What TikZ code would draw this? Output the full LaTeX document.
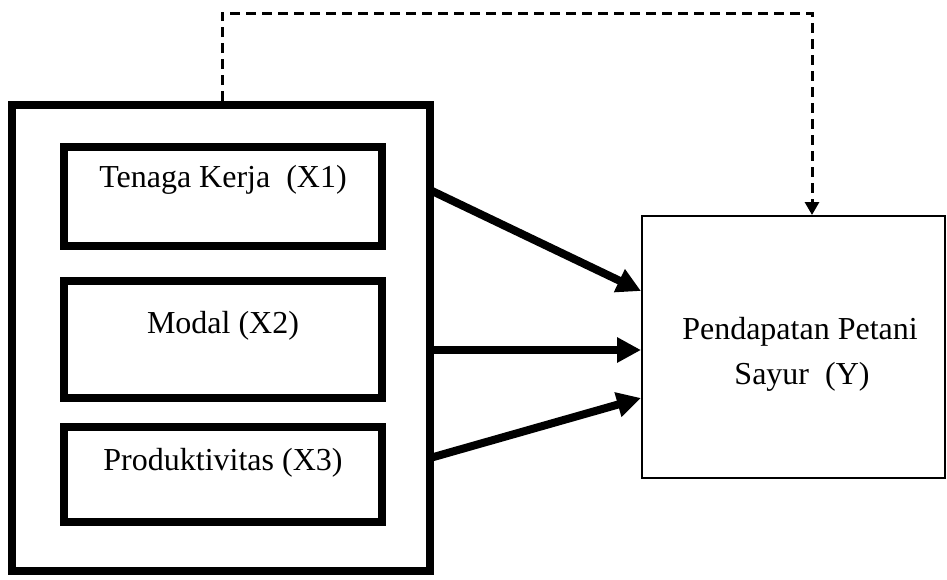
\documentclass[tikz,border=0pt]{standalone}
\usepackage{fontspec}
\setmainfont{Liberation Serif}
\usetikzlibrary{arrows.meta,calc}
\tikzset{
  grpbox/.style={draw=black, line width=8pt, minimum width=418pt, minimum height=466pt, inner sep=0pt, outer sep=0pt},
  varbox/.style={draw=black, line width=8pt, minimum width=318pt, inner sep=0pt, outer sep=0pt},
  ybox/.style={draw=black, line width=2pt, minimum width=303pt, minimum height=262pt, inner sep=0pt},
  lbl/.style={anchor=base, inner sep=0pt, font=\fontsize{32}{37}\selectfont},
  bigarrow/.style={line width=8pt, -{Triangle[length=24pt,width=24pt]}},
  dasharrow/.style={line width=3pt, dash pattern=on 10pt off 6pt, -{Triangle[length=13pt,width=14pt]}}
}
\begin{document}
\begin{tikzpicture}[x=1pt,y=-1pt]
\useasboundingbox (0,0) rectangle (947,579);
\fill[white] (0,0) rectangle (947,579);
\node[grpbox] (grp) at (221,338) {};
\node[varbox, minimum height=99pt] (x1) at (223,196.5) {};
\node[varbox, minimum height=117pt] (x2) at (223,339.5) {};
\node[varbox, minimum height=95pt] (x3) at (223,474) {};
\node[lbl] (t1) at (223,187) {Tenaga Kerja\ \ (X1)};
\node[lbl] (t2) at (223,333) {Modal (X2)};
\node[lbl] (t3) at (223,470) {Produktivitas (X3)};
\node[ybox] (y) at (793.5,347) {};
\node[lbl] (ty1) at (800,339) {Pendapatan Petani};
\node[lbl] (ty2) at (802,384) {Sayur\ \ (Y)};
% connectors
\coordinate (s1) at (430,190);
\coordinate (s2) at (430,350);
\coordinate (s3) at (430,458);
\coordinate (e1) at (641,291);
\coordinate (e2) at (641,350);
\coordinate (e3) at (641,398);
\draw[bigarrow] (s1) -- (e1);
\draw[bigarrow] (s2) -- (e2);
\draw[bigarrow] (s3) -- (e3);
\coordinate (d0) at (222,101);
\coordinate (dc) at (812,13);
\draw[dasharrow] (d0) |- (dc) -- (y.north -| dc);
\end{tikzpicture}
\end{document}
